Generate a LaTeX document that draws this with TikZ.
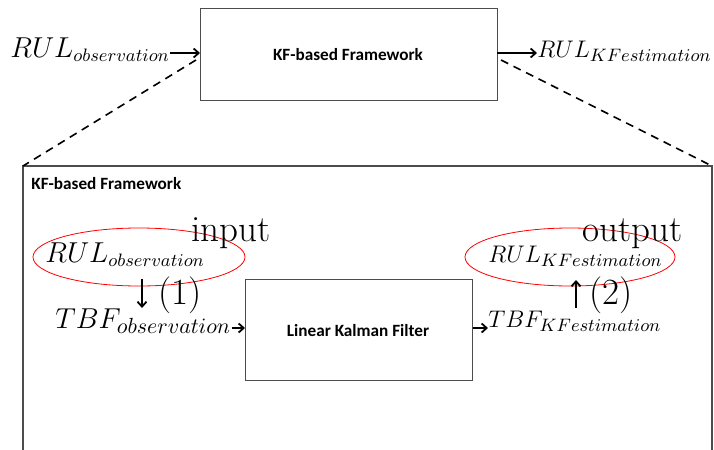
\documentclass[tikz,border=0pt]{standalone}
\usepackage{fontspec}
\newfontfamily\labelfont{Carlito}
\usetikzlibrary{arrows.meta}
\tikzset{
  blockbox/.style={draw=black!70, line width=0.6pt},
  boxlabel/.style={font=\labelfont\bfseries\fontsize{8.6}{10}\selectfont},
  mathlabel/.style={font=\fontsize{12.9}{15}\selectfont, inner sep=0pt},
  obslabel/.style={font=\fontsize{13.4}{15}\selectfont, inner sep=0pt},
  biglabel/.style={font=\fontsize{18.5}{20}\selectfont, inner sep=0pt},
  flow/.style={-{Straight Barb[length=2.5pt,width=4.5pt]}, line width=0.9pt, black},
  zoomline/.style={dashed, dash pattern=on 4pt off 3pt, line width=0.8pt, black},
  mark ellipse/.style={draw=red, line width=0.4pt},
}
\begin{document}
\begin{tikzpicture}[x=0.5pt, y=-0.5pt]
\useasboundingbox (0,0) rectangle (714,450);
\clip (0,0) rectangle (714,450);

% upper level: the framework as one block
\node[blockbox, minimum width=148.5pt, minimum height=46pt, anchor=north west, inner sep=0pt] (fw) at (200,8) {};
\node[boxlabel] (fwlabel) at (348,55) {KF-based Framework};
\node[obslabel, anchor=base west] (rulin) at (10,57) {$RUL_{observation}$};
\node[mathlabel, anchor=base west] (rulout) at (537,57) {$RUL_{KFestimation}$};
\coordinate (fwin) at (200,53);
\coordinate (fwout) at (497,53);
\draw[flow] (rulin.east |- fwin) -- (fwin);
\draw[flow] (fwout) -- (rulout.west |- fwout);

% expanded view of the framework
\coordinate (detailTL) at (23,166);
\coordinate (detailTR) at (712,166);
\draw[blockbox] (23,460) -- (detailTL) -- (detailTR) -- (712,460);
\node[boxlabel, anchor=west, inner sep=0pt] (detaillabel) at (31,184) {KF-based Framework};
\coordinate (zoomL) at (196,60);
\coordinate (zoomR) at (501,60);
\draw[zoomline] (zoomL) -- (detailTL);
\draw[zoomline] (zoomR) -- (detailTR);

% Kalman filter block
\node[blockbox, minimum width=113.5pt, minimum height=50.5pt, anchor=north west, inner sep=0pt] (kf) at (245,279) {};
\node[boxlabel] (kflabel) at (358,331) {Linear Kalman Filter};

% input side
\node[obslabel, anchor=base west] (rulobs) at (45,262) {$RUL_{observation}$};
\draw[mark ellipse] (139,257) ellipse [x radius=106, y radius=29];
\node[biglabel, anchor=base west] (inlabel) at (191,241) {input};
\node[obslabel, font=\fontsize{15.6}{17}\selectfont, anchor=base west] (tbfobs) at (55,328) {$TBF_{observation}$};
\draw[flow] (142,279) -- (142,308);
\node[biglabel, anchor=base west] (step1) at (158,304) {(1)};
\draw[flow] (tbfobs.east |- 0,328) -- (kf.west |- 0,328);

% output side
\node[mathlabel, anchor=base west] (tbfest) at (488,327) {$TBF_{KFestimation}$};
\draw[flow] (kf.east |- 0,328) -- (tbfest.west |- 0,328);
\node[mathlabel, anchor=base west] (rulest) at (488,262) {$RUL_{KFestimation}$};
\draw[mark ellipse] (570,257) ellipse [x radius=105, y radius=29];
\node[biglabel, anchor=base west] (outlabel) at (582,241) {output};
\draw[flow] (576,308) -- (576,280);
\node[biglabel, anchor=base west] (step2) at (589,304) {(2)};
\end{tikzpicture}
\end{document}
